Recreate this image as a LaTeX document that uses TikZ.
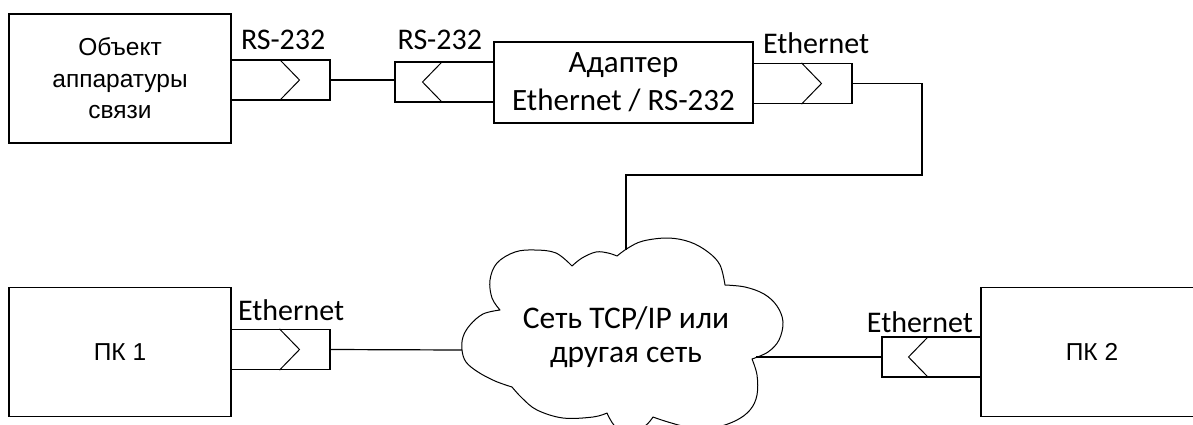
\documentclass[tikz,border=0pt]{standalone}
\usepackage{fontspec}
\setmainfont{Carlito}
\newfontfamily\arialf{Liberation Sans}
\usetikzlibrary{calc}
\begin{document}
\begin{tikzpicture}[x=1pt,y=-1pt,line width=1.2pt,
  box/.style={draw,inner sep=0pt,align=center,minimum width=222pt,minimum height=129pt,font=\arialf\fontsize{24.5}{31.5}\selectfont},
  port/.style={draw,inner sep=0pt,minimum width=99pt,minimum height=40pt},
  lbl/.style={inner sep=0pt,font=\fontsize{30}{36}\selectfont},
  chev/.style={line width=1pt}]
\useasboundingbox (0,0) rectangle (1193,424);

% devices
\node[box] (obj) at (120,78.5) {Объект\\аппаратуры\\связи};
\node[draw,inner sep=0pt,align=center,minimum width=259pt,minimum height=81pt,font=\fontsize{31}{38}\selectfont] (adp) at (623.5,82.5) {Адаптер\\Ethernet / RS-232};
\node[box] (pc1) at (120,352) {ПК 1};
\node[box] (pc2) at (1092,352) {ПК 2};

% ports
\node[port] (p1) at (280.5,80) {};
\node[port] (p2) at (444.5,82) {};
\node[port] (p3) at (802.5,83.5) {};
\node[port] (q1) at (280.5,349.5) {};
\node[port] (q2) at (931.5,357) {};

\draw[chev] ([xshift=-1pt]p1.north) -- ([xshift=19pt]p1.center) -- ([xshift=-1pt]p1.south);
\draw[chev] ([xshift=-2pt]p2.north) -- ([xshift=-22pt]p2.center) -- ([xshift=-2pt]p2.south);
\draw[chev] ([xshift=-1pt]p3.north) -- ([xshift=19pt]p3.center) -- ([xshift=-1pt]p3.south);
\draw[chev] ([xshift=-1pt]q1.north) -- ([xshift=19pt]q1.center) -- ([xshift=-1pt]q1.south);
\draw[chev] ([xshift=-3pt]q2.north) -- ([xshift=-23pt]q2.center) -- ([xshift=-3pt]q2.south);

% port labels
\node[lbl,anchor=base west] (l1) at ([xshift=10pt,yshift=10pt]p1.north west) {RS-232};
\node[lbl,anchor=base east] (l2) at ([xshift=-12pt,yshift=12pt]p2.north east) {RS-232};
\node[lbl,anchor=base west] (l3) at ([xshift=10pt,yshift=9pt]p3.north west) {Ethernet};
\node[lbl,anchor=base west] (l4) at ([xshift=7pt,yshift=8pt]q1.north west) {Ethernet};
\node[lbl,anchor=base east] (l5) at ([xshift=-8pt,yshift=4pt]q2.north east) {Ethernet};

% cloud
\draw[line width=1pt,line join=round]
  plot[smooth,tension=0.6] coordinates {(617,256) (628,248) (643,241) (668,238) (690,242) (708,252) (720,265) (725,285)}
  -- plot[smooth,tension=0.6] coordinates {(725,285) (745,287) (764,294) (777,306) (783,322) (779,340) (768,352) (752,359)}
  -- plot[smooth,tension=0.6] coordinates {(752,359) (757,375) (757,395) (750,410) (735,421) (712,428) (688,427) (668,422) (653,417)}
  -- plot[smooth,tension=0.6] coordinates {(653,417) (645,426) (630,432) (615,426) (607,413)}
  -- plot[smooth,tension=0.6] coordinates {(607,413) (593,417) (563,418) (537,410) (522,398) (512,387)}
  -- plot[smooth,tension=0.6] coordinates {(512,387) (495,381) (478,372) (466,362) (462,350) (463,337) (470,325) (483,314) (500,310)}
  -- plot[smooth,tension=0.6] coordinates {(500,310) (492,298) (490,280) (497,263) (515,252) (535,250) (556,253) (572,266)}
  -- plot[smooth,tension=0.6] coordinates {(572,266) (582,258) (596,252) (608,253) (617,256)};
\node[align=center,inner sep=0pt,font=\fontsize{31.5}{34.5}\selectfont] (net) at (626,337) {Сеть TCP/IP или\\другая сеть};

\coordinate (b1) at (922,175);
\coordinate (b2) at (626,175);
\coordinate (cT) at (626,250);
\coordinate (cL) at (462,350);
\coordinate (cR) at (756,357);

% connections
\draw (p1.east) -- (p1.east -| p2.west);
\draw (p3.east) -| (b1) -- (b2) -- (cT);
\draw (q1.east) -- (cL);
\draw (cR) -- (q2.west);
\end{tikzpicture}
\end{document}
